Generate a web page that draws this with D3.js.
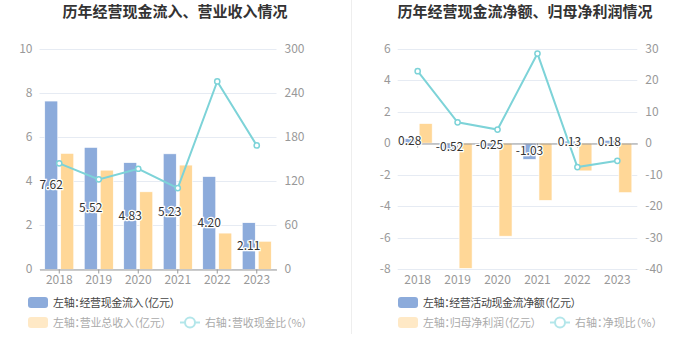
<!DOCTYPE html>
<html><head><meta charset="utf-8">
<script src="https://cdn.jsdelivr.net/npm/d3@7/dist/d3.min.js"></script>
<style>body{margin:0;background:#fff}svg{display:block;font-family:"Noto Sans CJK SC","Noto Sans",sans-serif}.leg{font-feature-settings:"halt" 1}</style>
</head><body><svg id="c" width="700" height="359"></svg>
<script>
const years = ["2018","2019","2020","2021","2022","2023"];
// Left chart
const cashInflow = [7.62, 5.52, 4.83, 5.23, 4.20, 2.11];
const revenue = [5.25, 4.49, 3.51, 4.72, 1.64, 1.27];
const revCashRatio = [144.0, 122.2, 136.6, 110.4, 255.2, 168.3];
const leftTicksL = [0, 2, 4, 6, 8, 10];
const leftTicksR = [0, 60, 120, 180, 240, 300];
// Right chart
const netCashFlow = [0.28, -0.52, -0.25, -1.03, 0.13, 0.18];
const netProfit = [1.24, -7.94, -5.90, -3.63, -1.76, -3.14];
const netCashRatio = [22.8, 6.6, 4.3, 28.4, -7.6, -5.6];
const rightTicksL = [-8, -6, -4, -2, 0, 2, 4, 6];
const rightTicksR = [-40, -30, -20, -10, 0, 10, 20, 30];

const BLUE = "#8cabdb", ORANGE = "#ffd797", LINE = "#7dd3d8";
const svg = d3.select("#c");

svg.append("line").attr("x1",351.5).attr("x2",351.5).attr("y1",0).attr("y2",334)
  .attr("stroke","#eeeeee").attr("stroke-width",1);

function panel(o){
  const g = svg.append("g");
  g.append("text").attr("x",o.titleX).attr("y",17).attr("text-anchor","middle")
    .attr("font-size",15).attr("font-weight","bold").attr("fill","#333").text(o.title);
  const x = d3.scaleBand().domain(years).range([o.x0,o.x1]);
  const yL = d3.scaleLinear().domain(o.domL).range([269.3,48.5]);
  const yR = d3.scaleLinear().domain(o.domR).range([269.3,48.5]);
  g.selectAll(".grid").data(o.ticksL).enter().append("line")
    .attr("x1",o.x0).attr("x2",o.x1).attr("y1",d=>Math.round(yL(d))+0.5).attr("y2",d=>Math.round(yL(d))+0.5)
    .attr("stroke","#e6ebf3").attr("stroke-width",1);
  g.selectAll(".tl").data(o.ticksL).enter().append("text")
    .attr("x",o.x0-7).attr("y",d=>yL(d)+4).attr("text-anchor","end")
    .attr("font-size",12).attr("fill","#999").text(d=>d);
  g.selectAll(".tr").data(o.ticksR).enter().append("text")
    .attr("x",o.x1+8).attr("y",d=>yR(d)+4).attr("text-anchor","start")
    .attr("font-size",12).attr("fill","#999").text(d=>d);
  const bw = 13, gap = 3;
  const c = d=>x(d)+x.bandwidth()/2;
  g.selectAll(".b1").data(years).enter().append("rect")
    .attr("x",d=>c(d)-gap/2-bw).attr("width",bw)
    .attr("y",(d,i)=>Math.min(yL(0),yL(o.s1[i])))
    .attr("height",(d,i)=>Math.abs(yL(0)-yL(o.s1[i])))
    .attr("fill",BLUE).attr("stroke","#fff").attr("stroke-width",0.6);
  g.selectAll(".b2").data(years).enter().append("rect")
    .attr("x",d=>c(d)+gap/2).attr("width",bw)
    .attr("y",(d,i)=>Math.min(yL(0),yL(o.s2[i])))
    .attr("height",(d,i)=>Math.abs(yL(0)-yL(o.s2[i])))
    .attr("fill",ORANGE).attr("stroke","#fff").attr("stroke-width",0.6);
  const ax = d3.axisBottom(x).tickSize(4).tickSizeOuter(0);
  const axg = g.append("g").attr("transform",`translate(0,${Math.round(yL(0))+0.5})`).call(ax);
  axg.select(".domain").attr("stroke","#999");
  axg.selectAll(".tick line").attr("stroke","#999");
  axg.selectAll(".tick text").remove();
  g.selectAll(".xl").data(years).enter().append("text")
    .attr("x",d=>c(d)).attr("y",284).attr("text-anchor","middle")
    .attr("font-size",12).attr("fill","#999").text(d=>d);
  const line = d3.line().x(d=>c(d[0])).y(d=>yR(d[1]));
  const pts = years.map((d,i)=>[d,o.s3[i]]);
  g.append("path").attr("d",line(pts)).attr("fill","none").attr("stroke",LINE).attr("stroke-width",2);
  g.selectAll(".pt").data(pts).enter().append("circle")
    .attr("cx",d=>c(d[0])).attr("cy",d=>yR(d[1])).attr("r",2.6)
    .attr("fill","#fff").attr("stroke",LINE).attr("stroke-width",1.5);
  g.selectAll(".lb").data(years).enter().append("text")
    .attr("x",d=>c(d)-gap/2-bw/2).attr("y",(d,i)=>(yL(0)+yL(o.s1[i]))/2+4)
    .attr("text-anchor","middle").attr("font-size",12).attr("fill","#333")
    .attr("stroke","#fff").attr("stroke-width",2.5).attr("paint-order","stroke")
    .text((d,i)=>o.s1[i].toFixed(2));
  const lx = o.legX;
  g.append("rect").attr("x",lx).attr("y",297).attr("width",20).attr("height",11).attr("rx",3).attr("fill",BLUE);
  g.append("text").attr("class","leg").attr("x",lx+25).attr("y",306.5).attr("font-size",11).attr("fill","#444")
    .attr("textLength",o.w1).attr("lengthAdjust","spacing").text(o.leg1);
  g.append("rect").attr("x",lx).attr("y",317).attr("width",20).attr("height",11).attr("rx",3).attr("fill","#ffe9c6");
  g.append("text").attr("class","leg").attr("x",lx+25).attr("y",326.5).attr("font-size",11).attr("fill","#aaa")
    .attr("textLength",o.w2).attr("lengthAdjust","spacing").text(o.leg2);
  g.append("line").attr("x1",o.leg3X).attr("x2",o.leg3X+20).attr("y1",322.5).attr("y2",322.5).attr("stroke","#b3e6ea").attr("stroke-width",2);
  g.append("circle").attr("cx",o.leg3X+10).attr("cy",322.5).attr("r",5).attr("fill","#fff").attr("stroke","#b3e6ea").attr("stroke-width",2);
  g.append("text").attr("class","leg").attr("x",o.leg3X+25).attr("y",326.5).attr("font-size",11).attr("fill","#aaa")
    .attr("textLength",o.w3).attr("lengthAdjust","spacing").text(o.leg3);
}

panel({title:"历年经营现金流入、营业收入情况", titleX:175, x0:39.5, x1:276.5,
  domL:[0,10], domR:[0,300], ticksL:leftTicksL, ticksR:leftTicksR,
  s1:cashInflow, s2:revenue, s3:revCashRatio, legX:28, leg3X:180, w1:122, w2:113, w3:102,
  leg1:"左轴：经营现金流入（亿元）", leg2:"左轴：营业总收入（亿元）", leg3:"右轴：营收现金比（%）"});
panel({title:"历年经营现金流净额、归母净利润情况", titleX:525, x0:397.7, x1:637.3,
  domL:[-8,6], domR:[-40,30], ticksL:rightTicksL, ticksR:rightTicksR,
  s1:netCashFlow, s2:netProfit, s3:netCashRatio, legX:398, leg3X:550, w1:153, w2:113, w3:82,
  leg1:"左轴：经营活动现金流净额（亿元）", leg2:"左轴：归母净利润（亿元）", leg3:"右轴：净现比（%）"});
</script></body></html>
